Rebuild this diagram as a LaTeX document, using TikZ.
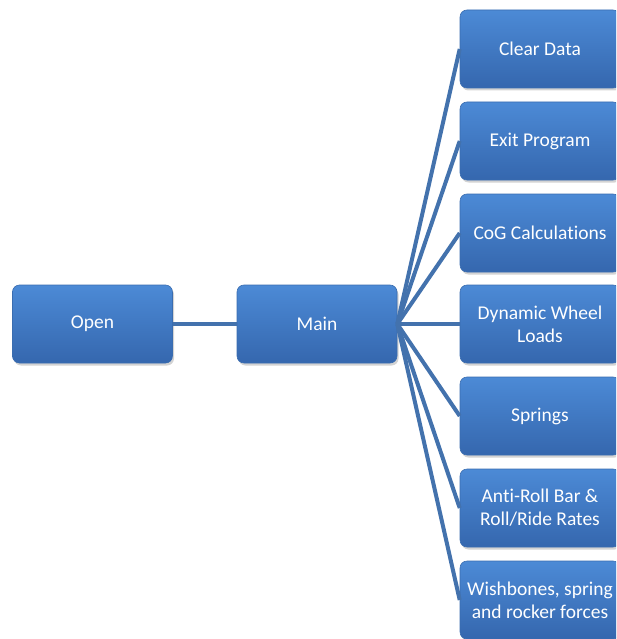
\documentclass[tikz,border=0pt]{standalone}
\usepackage{fontspec}
\setmainfont{Carlito}[Ligatures=NoCommon]
\usetikzlibrary{shadows}
\definecolor{boxtop}{HTML}{4C8AD6}
\definecolor{boxbot}{HTML}{3567AE}
\definecolor{boxedge}{HTML}{3A6DB0}
\definecolor{linkc}{HTML}{4372AD}
\tikzset{
  blk/.style={rectangle, rounded corners=7pt, minimum width=160pt, minimum height=78pt,
    top color=boxtop, bottom color=boxbot, draw=boxedge, line width=0.6pt,
    text=white, font=\fontsize{19.5pt}{23pt}\selectfont, align=center,
    drop shadow={shadow xshift=1.5pt, shadow yshift=-2.5pt, opacity=0.35, fill=gray}},
  link/.style={draw=linkc, line width=4pt}
}
\begin{document}
\begin{tikzpicture}[x=1pt,y=-1pt]
\useasboundingbox (0,0) rectangle (616,639);
\clip (0,0) rectangle (616,639);
\node[blk] (open) at (92.5,324) {Open};
\node[blk] (main) at (317,324) {Main};
\node[blk] (r1) at (540,49) {Clear Data};
\node[blk] (r2) at (540,141) {Exit Program};
\node[blk] (r3) at (540,233) {CoG Calculations};
\node[blk] (r4) at (540,324) {Dynamic Wheel\\Loads};
\node[blk] (r5) at (540,416) {Springs};
\node[blk] (r6) at (540,508) {Anti-Roll Bar \&\\Roll/Ride Rates};
\node[blk] (r7) at (540,600) {Wishbones, spring\\and rocker forces};
\draw[link] (open.east) -- (main.west);
\foreach \n in {r1,r2,r3,r4,r5,r6,r7}{
  \draw[link] (main.east) -- (\n.west);
}
\end{tikzpicture}
\end{document}
